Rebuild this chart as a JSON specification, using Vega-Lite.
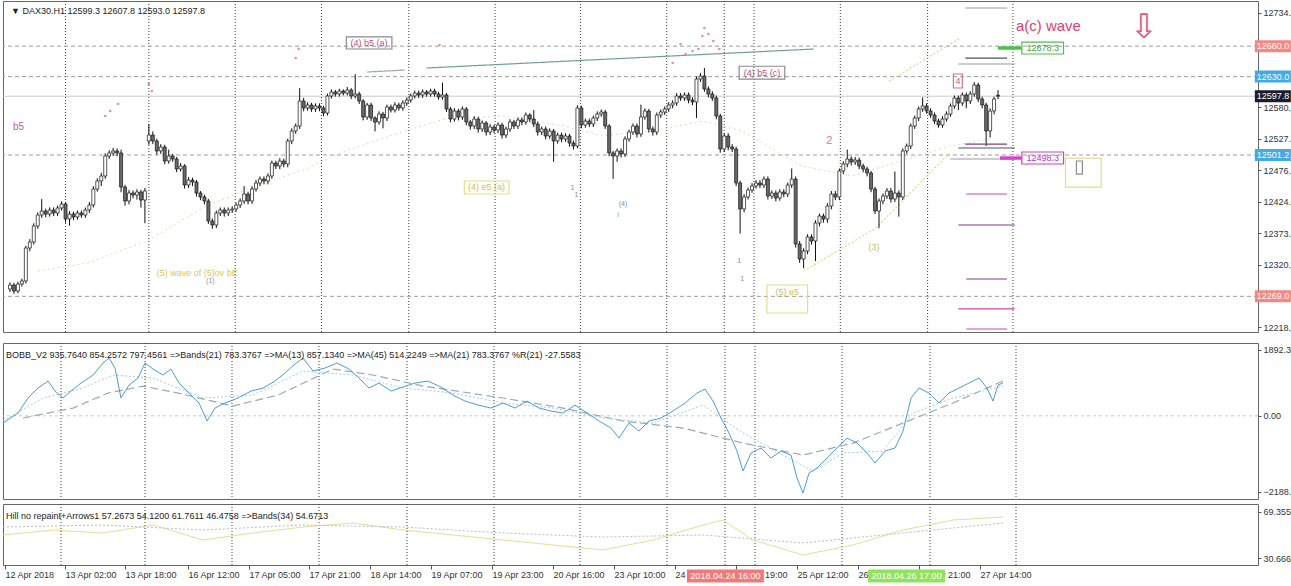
{
"$schema":"https://vega.github.io/schema/vega-lite/v6.json",
"padding":0,
"background":"white",
"spacing":9,
"config":{"font":"Liberation Sans","view":{"stroke":"#666","strokeWidth":1},"axis":{"labelFont":"Liberation Sans","labelFontSize":9,"labelColor":"#333","tickColor":"#555","domain":false,"grid":false}},
"datasets":{
"vgrid":[{"v":14.5},{"v":35.5},{"v":57.25},{"v":79},{"v":101},{"v":122.75},{"v":144.25},{"v":166},{"v":180.5},{"v":188},{"v":209.75},{"v":231.75},{"v":253.25}],
"hgrid":[{"p":12680.0},{"p":12630.0},{"p":12501.2},{"p":12269.0}],
"cur":[{"p":12597.8}],
"ma":[{"v":7.5,"p":12310.6},{"v":20,"p":12323.7},{"v":35,"p":12359.9},{"v":50,"p":12417.4},{"v":62.5,"p":12450.3},{"v":75,"p":12478.2},{"v":85,"p":12507.8},{"v":100,"p":12540.6},{"v":110,"p":12560.3},{"v":125,"p":12565.3},{"v":140,"p":12548.8},{"v":150,"p":12532.4},{"v":165,"p":12543.9},{"v":175,"p":12557.0},{"v":185,"p":12540.6},{"v":200,"p":12483.1},{"v":212.5,"p":12466.7},{"v":225,"p":12491.3},{"v":237.5,"p":12516.0},{"v":247.5,"p":12527.5}],
"tr":[{"id":"t1","k":"teal","v":105.5,"p":12644.1},{"id":"t1","k":"teal","v":203,"p":12675.3},{"id":"t2","k":"gray","v":90.5,"p":12637.5},{"id":"t2","k":"gray","v":100,"p":12640.8},{"id":"y1","k":"yel","v":222,"p":12622.8},{"id":"y1","k":"yel","v":240,"p":12693.4},{"id":"y2","k":"yel","v":200.5,"p":12310.6},{"id":"y2","k":"yel","v":218.75,"p":12381.2},{"id":"y2","k":"yel","v":237,"p":12502.8}],
"ohlc":[
{"v":0.5,"o":12281.0,"h":12292,"l":12276,"c":12287.6},
{"v":1.5,"o":12287.6,"h":12291,"l":12273,"c":12277.7},
{"v":2.5,"o":12277.7,"h":12293,"l":12274,"c":12289.2},
{"v":3.5,"o":12289.2,"h":12298,"l":12285,"c":12294.2},
{"v":4.5,"o":12294.2,"h":12352,"l":12290,"c":12348.4},
{"v":5.5,"o":12348.4,"h":12363,"l":12343,"c":12358.2},
{"v":6.5,"o":12358.2,"h":12389,"l":12354,"c":12384.5},
{"v":7.5,"o":12384.5,"h":12407,"l":12380,"c":12402.6},
{"v":8.5,"o":12402.6,"h":12429,"l":12398,"c":12409.2},
{"v":9.5,"o":12409.2,"h":12413,"l":12399,"c":12404.2},
{"v":10.5,"o":12404.2,"h":12415,"l":12400,"c":12410.8},
{"v":11.5,"o":12410.8,"h":12415,"l":12401,"c":12405.9},
{"v":12.5,"o":12405.9,"h":12418,"l":12401,"c":12414.1},
{"v":13.5,"o":12414.1,"h":12425,"l":12410,"c":12420.7},
{"v":14.5,"o":12420.7,"h":12424,"l":12390,"c":12396.0},
{"v":15.5,"o":12396.0,"h":12409,"l":12385,"c":12404.2},
{"v":16.5,"o":12404.2,"h":12408,"l":12394,"c":12399.3},
{"v":17.5,"o":12399.3,"h":12410,"l":12395,"c":12405.9},
{"v":18.5,"o":12405.9,"h":12410,"l":12398,"c":12402.6},
{"v":19.5,"o":12402.6,"h":12415,"l":12398,"c":12410.8},
{"v":20.5,"o":12410.8,"h":12424,"l":12406,"c":12419.0},
{"v":21.5,"o":12419.0,"h":12450,"l":12415,"c":12445.3},
{"v":22.5,"o":12445.3,"h":12463,"l":12441,"c":12458.5},
{"v":23.5,"o":12458.5,"h":12472,"l":12450,"c":12466.7},
{"v":24.5,"o":12466.7,"h":12504,"l":12462,"c":12499.5},
{"v":25.5,"o":12499.5,"h":12509,"l":12495,"c":12504.5},
{"v":26.5,"o":12504.5,"h":12513,"l":12500,"c":12507.8},
{"v":27.5,"o":12507.8,"h":12512,"l":12499,"c":12504.5},
{"v":28.5,"o":12504.5,"h":12510,"l":12440,"c":12448.6},
{"v":29.5,"o":12448.6,"h":12452,"l":12418,"c":12425.6},
{"v":30.5,"o":12425.6,"h":12444,"l":12420,"c":12438.7},
{"v":31.5,"o":12438.7,"h":12443,"l":12430,"c":12435.5},
{"v":32.5,"o":12435.5,"h":12445,"l":12428,"c":12440.4},
{"v":33.5,"o":12440.4,"h":12444,"l":12415,"c":12427.2},
{"v":34.5,"o":12427.2,"h":12447,"l":12389,"c":12442.1},
{"v":35.5,"o":12524.2,"h":12552,"l":12518,"c":12534.0},
{"v":36.5,"o":12534.0,"h":12540,"l":12519,"c":12524.2},
{"v":37.5,"o":12524.2,"h":12528,"l":12502,"c":12507.8},
{"v":38.5,"o":12507.8,"h":12519,"l":12503,"c":12514.3},
{"v":39.5,"o":12514.3,"h":12518,"l":12486,"c":12491.3},
{"v":40.5,"o":12491.3,"h":12510,"l":12487,"c":12499.5},
{"v":41.5,"o":12499.5,"h":12503,"l":12490,"c":12494.6},
{"v":42.5,"o":12494.6,"h":12498,"l":12473,"c":12478.2},
{"v":43.5,"o":12478.2,"h":12488,"l":12474,"c":12483.1},
{"v":44.5,"o":12483.1,"h":12486,"l":12446,"c":12451.9},
{"v":45.5,"o":12451.9,"h":12465,"l":12447,"c":12460.1},
{"v":46.5,"o":12460.1,"h":12464,"l":12450,"c":12456.8},
{"v":47.5,"o":12456.8,"h":12460,"l":12433,"c":12438.7},
{"v":48.5,"o":12438.7,"h":12442,"l":12427,"c":12432.2},
{"v":49.5,"o":12432.2,"h":12436,"l":12420,"c":12425.6},
{"v":50.5,"o":12425.6,"h":12429,"l":12388,"c":12392.7},
{"v":51.5,"o":12392.7,"h":12397,"l":12380,"c":12386.2},
{"v":52.5,"o":12386.2,"h":12410,"l":12381,"c":12405.9},
{"v":53.5,"o":12405.9,"h":12415,"l":12401,"c":12410.8},
{"v":54.5,"o":12410.8,"h":12415,"l":12400,"c":12405.9},
{"v":55.5,"o":12405.9,"h":12415,"l":12401,"c":12410.8},
{"v":56.5,"o":12410.8,"h":12417,"l":12406,"c":12412.5},
{"v":57.5,"o":12412.5,"h":12423,"l":12408,"c":12419.0},
{"v":58.5,"o":12419.0,"h":12430,"l":12414,"c":12425.6},
{"v":59.5,"o":12425.6,"h":12450,"l":12421,"c":12437.1},
{"v":60.5,"o":12437.1,"h":12441,"l":12420,"c":12425.6},
{"v":61.5,"o":12425.6,"h":12450,"l":12421,"c":12445.3},
{"v":62.5,"o":12445.3,"h":12460,"l":12441,"c":12455.2},
{"v":63.5,"o":12455.2,"h":12466,"l":12450,"c":12461.7},
{"v":64.5,"o":12461.7,"h":12466,"l":12453,"c":12458.5},
{"v":65.5,"o":12458.5,"h":12471,"l":12453,"c":12466.7},
{"v":66.5,"o":12466.7,"h":12492,"l":12462,"c":12488.0},
{"v":67.5,"o":12488.0,"h":12492,"l":12478,"c":12483.1},
{"v":68.5,"o":12483.1,"h":12496,"l":12478,"c":12491.3},
{"v":69.5,"o":12491.3,"h":12495,"l":12481,"c":12486.4},
{"v":70.5,"o":12486.4,"h":12528,"l":12481,"c":12524.2},
{"v":71.5,"o":12524.2,"h":12545,"l":12519,"c":12540.6},
{"v":72.5,"o":12540.6,"h":12553,"l":12536,"c":12548.8},
{"v":73.5,"o":12548.8,"h":12611,"l":12544,"c":12589.9},
{"v":74.5,"o":12589.9,"h":12595,"l":12573,"c":12578.4},
{"v":75.5,"o":12578.4,"h":12588,"l":12574,"c":12583.3},
{"v":76.5,"o":12583.3,"h":12587,"l":12572,"c":12576.8},
{"v":77.5,"o":12576.8,"h":12586,"l":12572,"c":12581.7},
{"v":78.5,"o":12581.7,"h":12586,"l":12573,"c":12578.4},
{"v":79.5,"o":12578.4,"h":12582,"l":12565,"c":12570.2},
{"v":80.5,"o":12570.2,"h":12602,"l":12566,"c":12598.1},
{"v":81.5,"o":12598.1,"h":12609,"l":12594,"c":12604.7},
{"v":82.5,"o":12604.7,"h":12608,"l":12597,"c":12601.4},
{"v":83.5,"o":12601.4,"h":12610,"l":12597,"c":12606.3},
{"v":84.5,"o":12606.3,"h":12609,"l":12599,"c":12603.0},
{"v":85.5,"o":12603.0,"h":12613,"l":12599,"c":12608.0},
{"v":86.5,"o":12608.0,"h":12611,"l":12593,"c":12598.1},
{"v":87.5,"o":12598.1,"h":12634,"l":12594,"c":12601.4},
{"v":88.5,"o":12601.4,"h":12605,"l":12585,"c":12589.9},
{"v":89.5,"o":12589.9,"h":12593,"l":12558,"c":12563.6},
{"v":90.5,"o":12563.6,"h":12587,"l":12559,"c":12583.3},
{"v":91.5,"o":12583.3,"h":12587,"l":12557,"c":12562.0},
{"v":92.5,"o":12562.0,"h":12565,"l":12540,"c":12555.4},
{"v":93.5,"o":12555.4,"h":12573,"l":12551,"c":12568.5},
{"v":94.5,"o":12568.5,"h":12572,"l":12545,"c":12562.0},
{"v":95.5,"o":12562.0,"h":12584,"l":12557,"c":12580.0},
{"v":96.5,"o":12580.0,"h":12584,"l":12571,"c":12575.1},
{"v":97.5,"o":12575.1,"h":12588,"l":12571,"c":12583.3},
{"v":98.5,"o":12583.3,"h":12587,"l":12574,"c":12578.4},
{"v":99.5,"o":12578.4,"h":12591,"l":12574,"c":12586.6},
{"v":100.5,"o":12586.6,"h":12596,"l":12582,"c":12591.5},
{"v":101.5,"o":12591.5,"h":12602,"l":12587,"c":12598.1},
{"v":102.5,"o":12598.1,"h":12607,"l":12594,"c":12603.0},
{"v":103.5,"o":12603.0,"h":12607,"l":12595,"c":12599.8},
{"v":104.5,"o":12599.8,"h":12609,"l":12595,"c":12604.7},
{"v":105.5,"o":12604.7,"h":12608,"l":12597,"c":12601.4},
{"v":106.5,"o":12601.4,"h":12610,"l":12597,"c":12606.3},
{"v":107.5,"o":12606.3,"h":12610,"l":12597,"c":12601.4},
{"v":108.5,"o":12601.4,"h":12605,"l":12592,"c":12596.5},
{"v":109.5,"o":12596.5,"h":12620,"l":12592,"c":12599.8},
{"v":110.5,"o":12599.8,"h":12603,"l":12572,"c":12576.8},
{"v":111.5,"o":12576.8,"h":12580,"l":12555,"c":12560.3},
{"v":112.5,"o":12560.3,"h":12578,"l":12556,"c":12573.5},
{"v":113.5,"o":12573.5,"h":12577,"l":12558,"c":12563.6},
{"v":114.5,"o":12563.6,"h":12581,"l":12559,"c":12576.8},
{"v":115.5,"o":12576.8,"h":12580,"l":12550,"c":12555.4},
{"v":116.5,"o":12555.4,"h":12559,"l":12543,"c":12548.8},
{"v":117.5,"o":12548.8,"h":12565,"l":12544,"c":12560.3},
{"v":118.5,"o":12560.3,"h":12564,"l":12538,"c":12543.9},
{"v":119.5,"o":12543.9,"h":12558,"l":12539,"c":12553.8},
{"v":120.5,"o":12553.8,"h":12557,"l":12533,"c":12539.0},
{"v":121.5,"o":12539.0,"h":12552,"l":12534,"c":12547.2},
{"v":122.5,"o":12547.2,"h":12551,"l":12537,"c":12542.2},
{"v":123.5,"o":12542.2,"h":12555,"l":12537,"c":12550.5},
{"v":124.5,"o":12550.5,"h":12554,"l":12528,"c":12534.0},
{"v":125.5,"o":12534.0,"h":12548,"l":12529,"c":12543.9},
{"v":126.5,"o":12543.9,"h":12560,"l":12539,"c":12555.4},
{"v":127.5,"o":12555.4,"h":12559,"l":12544,"c":12548.8},
{"v":128.5,"o":12548.8,"h":12563,"l":12544,"c":12558.7},
{"v":129.5,"o":12558.7,"h":12563,"l":12550,"c":12555.4},
{"v":130.5,"o":12555.4,"h":12571,"l":12551,"c":12566.9},
{"v":131.5,"o":12566.9,"h":12570,"l":12555,"c":12560.3},
{"v":132.5,"o":12560.3,"h":12575,"l":12547,"c":12552.1},
{"v":133.5,"o":12552.1,"h":12556,"l":12533,"c":12539.0},
{"v":134.5,"o":12539.0,"h":12548,"l":12534,"c":12543.9},
{"v":135.5,"o":12543.9,"h":12548,"l":12527,"c":12532.4},
{"v":136.5,"o":12532.4,"h":12545,"l":12528,"c":12540.6},
{"v":137.5,"o":12540.6,"h":12544,"l":12490,"c":12524.2},
{"v":138.5,"o":12524.2,"h":12538,"l":12520,"c":12534.0},
{"v":139.5,"o":12534.0,"h":12538,"l":12522,"c":12527.5},
{"v":140.5,"o":12527.5,"h":12537,"l":12523,"c":12532.4},
{"v":141.5,"o":12532.4,"h":12536,"l":12515,"c":12520.9},
{"v":142.5,"o":12520.9,"h":12525,"l":12510,"c":12516.0},
{"v":143.5,"o":12516.0,"h":12583,"l":12512,"c":12578.4},
{"v":144.5,"o":12578.4,"h":12582,"l":12545,"c":12550.5},
{"v":145.5,"o":12550.5,"h":12561,"l":12546,"c":12557.0},
{"v":146.5,"o":12557.0,"h":12561,"l":12547,"c":12552.1},
{"v":147.5,"o":12552.1,"h":12566,"l":12547,"c":12562.0},
{"v":148.5,"o":12562.0,"h":12573,"l":12557,"c":12568.5},
{"v":149.5,"o":12568.5,"h":12576,"l":12564,"c":12571.8},
{"v":150.5,"o":12571.8,"h":12575,"l":12544,"c":12548.8},
{"v":151.5,"o":12548.8,"h":12552,"l":12499,"c":12504.5},
{"v":152.5,"o":12504.5,"h":12508,"l":12462,"c":12499.5},
{"v":153.5,"o":12499.5,"h":12512,"l":12490,"c":12507.8},
{"v":154.5,"o":12507.8,"h":12512,"l":12497,"c":12502.8},
{"v":155.5,"o":12502.8,"h":12532,"l":12498,"c":12527.5},
{"v":156.5,"o":12527.5,"h":12543,"l":12523,"c":12539.0},
{"v":157.5,"o":12539.0,"h":12553,"l":12534,"c":12548.8},
{"v":158.5,"o":12548.8,"h":12553,"l":12530,"c":12535.7},
{"v":159.5,"o":12535.7,"h":12584,"l":12531,"c":12563.6},
{"v":160.5,"o":12563.6,"h":12578,"l":12559,"c":12573.5},
{"v":161.5,"o":12573.5,"h":12577,"l":12538,"c":12543.9},
{"v":162.5,"o":12543.9,"h":12548,"l":12533,"c":12539.0},
{"v":163.5,"o":12539.0,"h":12571,"l":12534,"c":12566.9},
{"v":164.5,"o":12566.9,"h":12576,"l":12562,"c":12571.8},
{"v":165.5,"o":12571.8,"h":12581,"l":12567,"c":12576.8},
{"v":166.5,"o":12576.8,"h":12588,"l":12572,"c":12583.3},
{"v":167.5,"o":12583.3,"h":12591,"l":12578,"c":12586.6},
{"v":168.5,"o":12586.6,"h":12603,"l":12582,"c":12598.1},
{"v":169.5,"o":12598.1,"h":12603,"l":12590,"c":12594.8},
{"v":170.5,"o":12594.8,"h":12604,"l":12590,"c":12599.8},
{"v":171.5,"o":12599.8,"h":12604,"l":12586,"c":12591.5},
{"v":172.5,"o":12591.5,"h":12596,"l":12583,"c":12588.3},
{"v":173.5,"o":12588.3,"h":12630,"l":12562,"c":12626.0},
{"v":174.5,"o":12626.0,"h":12636,"l":12621,"c":12631.0},
{"v":175.5,"o":12631.0,"h":12644,"l":12605,"c":12609.6},
{"v":176.5,"o":12609.6,"h":12614,"l":12596,"c":12601.4},
{"v":177.5,"o":12601.4,"h":12606,"l":12590,"c":12594.8},
{"v":178.5,"o":12594.8,"h":12599,"l":12560,"c":12565.3},
{"v":179.5,"o":12565.3,"h":12569,"l":12505,"c":12511.0},
{"v":180.5,"o":12511.0,"h":12537,"l":12506,"c":12532.4},
{"v":181.5,"o":12532.4,"h":12537,"l":12509,"c":12514.3},
{"v":182.5,"o":12514.3,"h":12519,"l":12506,"c":12511.0},
{"v":183.5,"o":12511.0,"h":12515,"l":12450,"c":12455.2},
{"v":184.5,"o":12455.2,"h":12459,"l":12372,"c":12412.5},
{"v":185.5,"o":12412.5,"h":12437,"l":12407,"c":12432.2},
{"v":186.5,"o":12432.2,"h":12448,"l":12428,"c":12443.7},
{"v":187.5,"o":12443.7,"h":12455,"l":12439,"c":12450.3},
{"v":188.5,"o":12450.3,"h":12460,"l":12446,"c":12455.2},
{"v":189.5,"o":12455.2,"h":12460,"l":12447,"c":12451.9},
{"v":190.5,"o":12451.9,"h":12466,"l":12447,"c":12461.7},
{"v":191.5,"o":12461.7,"h":12466,"l":12428,"c":12433.8},
{"v":192.5,"o":12433.8,"h":12443,"l":12429,"c":12438.7},
{"v":193.5,"o":12438.7,"h":12443,"l":12425,"c":12430.5},
{"v":194.5,"o":12430.5,"h":12445,"l":12426,"c":12440.4},
{"v":195.5,"o":12440.4,"h":12445,"l":12432,"c":12437.1},
{"v":196.5,"o":12437.1,"h":12456,"l":12432,"c":12451.9},
{"v":197.5,"o":12451.9,"h":12479,"l":12447,"c":12461.7},
{"v":198.5,"o":12461.7,"h":12466,"l":12349,"c":12355.0},
{"v":199.5,"o":12355.0,"h":12360,"l":12324,"c":12330.3},
{"v":200.5,"o":12330.3,"h":12348,"l":12315,"c":12343.5},
{"v":201.5,"o":12343.5,"h":12371,"l":12338,"c":12366.5},
{"v":202.5,"o":12366.5,"h":12371,"l":12354,"c":12359.9},
{"v":203.5,"o":12359.9,"h":12394,"l":12327,"c":12389.5},
{"v":204.5,"o":12389.5,"h":12405,"l":12384,"c":12401.0},
{"v":205.5,"o":12401.0,"h":12405,"l":12390,"c":12396.0},
{"v":206.5,"o":12396.0,"h":12422,"l":12390,"c":12417.4},
{"v":207.5,"o":12417.4,"h":12442,"l":12412,"c":12437.1},
{"v":208.5,"o":12437.1,"h":12442,"l":12427,"c":12432.2},
{"v":209.5,"o":12432.2,"h":12479,"l":12427,"c":12474.9},
{"v":210.5,"o":12474.9,"h":12491,"l":12470,"c":12486.4},
{"v":211.5,"o":12486.4,"h":12510,"l":12481,"c":12494.6},
{"v":212.5,"o":12494.6,"h":12499,"l":12484,"c":12489.7},
{"v":213.5,"o":12489.7,"h":12498,"l":12485,"c":12492.9},
{"v":214.5,"o":12492.9,"h":12497,"l":12478,"c":12483.1},
{"v":215.5,"o":12483.1,"h":12487,"l":12473,"c":12478.2},
{"v":216.5,"o":12478.2,"h":12482,"l":12466,"c":12471.6},
{"v":217.5,"o":12471.6,"h":12475,"l":12440,"c":12445.3},
{"v":218.5,"o":12445.3,"h":12449,"l":12404,"c":12409.2},
{"v":219.5,"o":12409.2,"h":12430,"l":12381,"c":12425.6},
{"v":220.5,"o":12425.6,"h":12438,"l":12420,"c":12433.8},
{"v":221.5,"o":12433.8,"h":12447,"l":12429,"c":12442.1},
{"v":222.5,"o":12442.1,"h":12447,"l":12423,"c":12428.9},
{"v":223.5,"o":12428.9,"h":12474,"l":12424,"c":12438.7},
{"v":224.5,"o":12438.7,"h":12443,"l":12400,"c":12432.2},
{"v":225.5,"o":12432.2,"h":12512,"l":12427,"c":12507.8},
{"v":226.5,"o":12507.8,"h":12520,"l":12503,"c":12516.0},
{"v":227.5,"o":12516.0,"h":12553,"l":12511,"c":12548.8},
{"v":228.5,"o":12548.8,"h":12566,"l":12544,"c":12562.0},
{"v":229.5,"o":12562.0,"h":12581,"l":12557,"c":12576.8},
{"v":230.5,"o":12576.8,"h":12596,"l":12572,"c":12581.7},
{"v":231.5,"o":12581.7,"h":12586,"l":12569,"c":12573.5},
{"v":232.5,"o":12573.5,"h":12578,"l":12562,"c":12566.9},
{"v":233.5,"o":12566.9,"h":12571,"l":12552,"c":12557.0},
{"v":234.5,"o":12557.0,"h":12561,"l":12546,"c":12550.5},
{"v":235.5,"o":12550.5,"h":12565,"l":12546,"c":12560.3},
{"v":236.5,"o":12560.3,"h":12573,"l":12556,"c":12568.5},
{"v":237.5,"o":12568.5,"h":12586,"l":12564,"c":12581.7},
{"v":238.5,"o":12581.7,"h":12599,"l":12577,"c":12594.8},
{"v":239.5,"o":12594.8,"h":12599,"l":12575,"c":12586.6},
{"v":240.5,"o":12586.6,"h":12604,"l":12582,"c":12599.8},
{"v":241.5,"o":12599.8,"h":12604,"l":12578,"c":12589.9},
{"v":242.5,"o":12589.9,"h":12606,"l":12585,"c":12601.4},
{"v":243.5,"o":12601.4,"h":12621,"l":12597,"c":12616.2},
{"v":244.5,"o":12616.2,"h":12620,"l":12588,"c":12593.2},
{"v":245.5,"o":12593.2,"h":12597,"l":12578,"c":12583.3},
{"v":246.5,"o":12583.3,"h":12587,"l":12516,"c":12540.6},
{"v":247.5,"o":12540.6,"h":12578,"l":12530,"c":12573.5},
{"v":248.5,"o":12573.5,"h":12597,"l":12568,"c":12593.2},
{"v":249.5,"o":12599.3,"h":12607.8,"l":12593.0,"c":12597.8}
],
"lv":[{"v1":241.25,"v2":251.75,"p":12742.7,"k":"gray"},{"v1":241.25,"v2":251.75,"p":12660.5,"k":"dgray"},{"v1":239.5,"v2":253.75,"p":12650.7,"k":"gray"},{"v1":241.25,"v2":251.75,"p":12519.2,"k":"purple"},{"v1":239.5,"v2":253.75,"p":12512.7,"k":"dgray"},{"v1":237.5,"v2":253.75,"p":12494.6,"k":"gray"},{"v1":241.5,"v2":251.75,"p":12437.1,"k":"magenta"},{"v1":239.5,"v2":253.75,"p":12386.2,"k":"purple"},{"v1":241.5,"v2":251.75,"p":12297.5,"k":"purple"},{"v1":239.5,"v2":253.75,"p":12248.5,"k":"magenta"},{"v1":241.5,"v2":251.75,"p":12215.3,"k":"magenta"}],
"arw":[{"v1":249.5,"v2":255.5,"p":12677.0,"k":"green"},{"v1":250,"v2":255.5,"p":12496.2,"k":"magenta"}],
"bx":[{"v1":85.25,"v2":96.75,"p1":12695.1,"p2":12675.3,"k":"gray"},{"v1":184.25,"v2":195.75,"p1":12647.0,"p2":12626.0,"k":"gray"},{"v1":238.25,"v2":240.5,"p1":12634.3,"p2":12611.3,"k":"pink"},{"v1":115,"v2":126.25,"p1":12458.5,"p2":12437.1,"k":"yellow"},{"v1":191.25,"v2":201.5,"p1":12287.6,"p2":12241.6,"k":"yellow"},{"v1":266.5,"v2":275.5,"p1":12496.2,"p2":12448.5,"k":"yellow"},{"v1":269.25,"v2":270.75,"p1":12491.3,"p2":12469.8,"k":"gray"},{"v1":255.5,"v2":266,"p1":12686.8,"p2":12667.1,"k":"green"},{"v1":255.5,"v2":266,"p1":12506.1,"p2":12486.4,"k":"magenta"}],
"pk":[{"v":24.5,"p":12565.3},{"v":25.75,"p":12573.5},{"v":27.75,"p":12585.0},{"v":35.5,"p":12617.8},{"v":36.25,"p":12606.3},{"v":72.5,"p":12660.5},{"v":73.25,"p":12675.3},{"v":108.75,"p":12681.9},{"v":167.5,"p":12652.3},{"v":169.5,"p":12683.5},{"v":170.75,"p":12667.1},{"v":172.5,"p":12672.0},{"v":174,"p":12675.3},{"v":175,"p":12696.7},{"v":175.5,"p":12709.8},{"v":176.5,"p":12700.0},{"v":177.75,"p":12688.5},{"v":179.25,"p":12675.3}],
"tx":[{"t":"▼ DAX30.H1  12599.3 12607.8 12593.0 12597.8","v":0.75,"p":12738.0,"k":"hdr"},{"t":"b5","v":1.25,"p":12547.2,"k":"pinkL"},{"t":"(4) b5 (a)","v":91,"p":12685.2,"k":"pink"},{"t":"(4) b5 (c)","v":190,"p":12636.5,"k":"pink"},{"t":"2","v":207,"p":12524.2,"k":"two"},{"t":"4","v":239.4,"p":12622.8,"k":"four"},{"t":"a(c) wave","v":254,"p":12713.1,"k":"wave"},{"t":"⇩","v":286.25,"p":12709.8,"k":"arrow"},{"t":"(4) e5 (a)","v":120.6,"p":12447.8,"k":"yel"},{"t":"(3)","v":218.25,"p":12350.0,"k":"yel"},{"t":"(5) e5","v":196.4,"p":12276.0,"k":"yel"},{"t":"(5)    wave of  (5)ov bE","v":37.5,"p":12307.2,"k":"yelL"},{"t":"(1)","v":51,"p":12294.2,"k":"small"},{"t":"1","v":142.25,"p":12447.0,"k":"small"},{"t":"1","v":143.25,"p":12435.5,"k":"small"},{"t":"(4)","v":155,"p":12420.7,"k":"small"},{"t":"i","v":153.75,"p":12402.6,"k":"small"},{"t":"1","v":184.25,"p":12327.0,"k":"small"},{"t":"1","v":185,"p":12297.5,"k":"small"},{"t":"12678.3","v":260.75,"p":12677.0,"k":"labg"},{"t":"12498.3","v":260.75,"p":12496.2,"k":"labm"}],
"axl":[{"p":12680.0,"t":"12680.0","k":"red"},{"p":12630.0,"t":"12630.0","k":"blue"},{"p":12597.8,"t":"12597.8","k":"black"},{"p":12501.2,"t":"12501.2","k":"blue"},{"p":12269.0,"t":"12269.0","k":"red"}],
"bmain":[{"v":0,"b":-207},{"v":3.75,"b":80},{"v":6.25,"b":512},{"v":8.75,"b":799},{"v":11.25,"b":1000},{"v":13,"b":713},{"v":15,"b":512},{"v":17,"b":713},{"v":19.5,"b":943},{"v":22.5,"b":1173},{"v":25,"b":1517},{"v":26.5,"b":1661},{"v":28,"b":1374},{"v":29.5,"b":512},{"v":31.5,"b":885},{"v":33.75,"b":1086},{"v":35.5,"b":1517},{"v":37.5,"b":1345},{"v":40,"b":1173},{"v":42,"b":1345},{"v":44,"b":943},{"v":46.5,"b":655},{"v":49,"b":368},{"v":51,"b":-149},{"v":53,"b":224},{"v":55.5,"b":368},{"v":58.75,"b":512},{"v":62,"b":713},{"v":65,"b":799},{"v":68,"b":1000},{"v":70.5,"b":1230},{"v":73,"b":1489},{"v":75,"b":1661},{"v":77.5,"b":1288},{"v":80.5,"b":1374},{"v":83.5,"b":1517},{"v":86.5,"b":1345},{"v":89,"b":1086},{"v":91.5,"b":799},{"v":94,"b":943},{"v":97,"b":713},{"v":100,"b":828},{"v":103,"b":943},{"v":106.25,"b":1000},{"v":109.5,"b":828},{"v":112.5,"b":598},{"v":115.5,"b":425},{"v":118.75,"b":310},{"v":122,"b":224},{"v":125,"b":368},{"v":128,"b":224},{"v":131,"b":425},{"v":134,"b":224},{"v":137,"b":138},{"v":140,"b":80},{"v":143,"b":310},{"v":146,"b":80},{"v":149,"b":-149},{"v":152,"b":-351},{"v":154,"b":-638},{"v":156.5,"b":-207},{"v":159,"b":-437},{"v":161.5,"b":-149},{"v":164.5,"b":-63},{"v":167.5,"b":138},{"v":170.5,"b":368},{"v":173.5,"b":655},{"v":175.5,"b":770},{"v":177.5,"b":425},{"v":179.5,"b":-63},{"v":181.5,"b":-494},{"v":183.5,"b":-1012},{"v":185,"b":-1586},{"v":187,"b":-1069},{"v":189.5,"b":-925},{"v":192,"b":-1213},{"v":194.5,"b":-1012},{"v":197,"b":-1127},{"v":198.5,"b":-1788},{"v":200,"b":-2219},{"v":201.5,"b":-1644},{"v":203.5,"b":-1500},{"v":206,"b":-1213},{"v":208.5,"b":-925},{"v":211,"b":-638},{"v":213.5,"b":-782},{"v":216,"b":-1069},{"v":218,"b":-1357},{"v":220.5,"b":-1012},{"v":223,"b":-925},{"v":225,"b":-437},{"v":227,"b":512},{"v":229,"b":799},{"v":231.5,"b":655},{"v":234,"b":368},{"v":236.5,"b":655},{"v":239,"b":799},{"v":241.5,"b":943},{"v":244,"b":1086},{"v":246,"b":799},{"v":247.5,"b":425},{"v":248.75,"b":885},{"v":250,"b":943}],
"bma45":[{"v":5,"b":-63},{"v":17.5,"b":224},{"v":26.25,"b":655},{"v":35,"b":856},{"v":43.75,"b":655},{"v":57.5,"b":282},{"v":68.75,"b":598},{"v":82.5,"b":1345},{"v":92.5,"b":1173},{"v":105,"b":856},{"v":125,"b":512},{"v":140,"b":224},{"v":155,"b":-149},{"v":170,"b":-351},{"v":185,"b":-782},{"v":200,"b":-1127},{"v":212.5,"b":-782},{"v":225,"b":-207},{"v":237.5,"b":368},{"v":250,"b":1000}],
"bma13":[{"v":0,"b":-149},{"v":10,"b":512},{"v":20,"b":799},{"v":27.5,"b":1173},{"v":37.5,"b":1086},{"v":50,"b":512},{"v":62.5,"b":598},{"v":75,"b":1288},{"v":87.5,"b":1173},{"v":100,"b":799},{"v":112.5,"b":655},{"v":125,"b":368},{"v":137.5,"b":224},{"v":150,"b":-63},{"v":162.5,"b":-207},{"v":175,"b":310},{"v":185,"b":-494},{"v":195,"b":-1127},{"v":202.5,"b":-1586},{"v":210,"b":-1069},{"v":220,"b":-1012},{"v":227.5,"b":80},{"v":237.5,"b":512},{"v":250,"b":856}],
"bh":[{"t":"BOBB_V2 935.7640 854.2572 797.4561  =>Bands(21) 783.3767  =>MA(13) 857.1340  =>MA(45) 514.2249  =>MA(21) 783.3767  %R(21) -27.5583","v":0.75,"b":1748}],
"hy":[{"v":0,"h":50.0},{"v":12.5,"h":54.2},{"v":25,"h":51.7},{"v":37.5,"h":58.4},{"v":50,"h":45.8},{"v":62.5,"h":51.7},{"v":75,"h":56.7},{"v":87.5,"h":60.1},{"v":100,"h":54.2},{"v":112.5,"h":50.0},{"v":125,"h":45.8},{"v":137.5,"h":41.6},{"v":150,"h":37.4},{"v":162.5,"h":45.8},{"v":175,"h":58.4},{"v":180,"h":62.6},{"v":187.5,"h":45.8},{"v":200,"h":33.2},{"v":212.5,"h":41.6},{"v":225,"h":54.2},{"v":237.5,"h":62.6},{"v":250,"h":65.15}],
"hg":[{"v":0,"h":56.7},{"v":25,"h":58.4},{"v":50,"h":54.2},{"v":75,"h":58.4},{"v":100,"h":56.7},{"v":125,"h":51.7},{"v":150,"h":48.3},{"v":175,"h":50.0},{"v":200,"h":43.3},{"v":225,"h":51.7},{"v":250,"h":60.1}],
"hh":[{"t":"Hill no repaint+Arrows1 57.2673 54.1200 61.7611 46.4758  =>Bands(34) 54.6713","v":0.75,"h":66.0}],
"xbox":[{"v":180.6,"t":"2018.04.24 16:00","k":"red"},{"v":225.9,"t":"2018.04.26 17:00","k":"green"}]
},
"vconcat":[
{"width":1255,"height":331,
"resolve":{"scale":{"color":"independent","stroke":"independent","strokeDash":"independent"}},
"layer":[
{"data":{"name":"vgrid"},"mark":{"type":"rule","color":"#3a3a3a","strokeDash":[1,2],"strokeWidth":1},"encoding":{"x":{"field":"v","type":"quantitative","scale":{"domain":[0,313.75],"nice":false,"zero":false},"axis":null}}},
{"data":{"name":"hgrid"},"mark":{"type":"rule","color":"#9c9c9c","strokeDash":[4,3],"strokeWidth":1},"encoding":{"y":{"field":"p","type":"quantitative","scale":{"domain":[12210.4,12754.2],"nice":false,"zero":false},"axis":{"orient":"right","values":[12734.5,12580.0,12527.5,12476.5,12424.0,12373.0,12320.5,12218.5],"format":".1f","tickSize":3,"labelPadding":2,"title":null}}}},
{"data":{"name":"cur"},"mark":{"type":"rule","color":"#cacaca","strokeWidth":1},"encoding":{"y":{"field":"p","type":"quantitative"}}},
{"data":{"name":"ma"},"mark":{"type":"line","color":"#e2dbb4","strokeDash":[2,3],"strokeWidth":1},"encoding":{"x":{"field":"v","type":"quantitative"},"y":{"field":"p","type":"quantitative"}}},
{"data":{"name":"tr"},"mark":{"type":"line","strokeWidth":1.2},"encoding":{"x":{"field":"v","type":"quantitative"},"y":{"field":"p","type":"quantitative"},"detail":{"field":"id"},"color":{"field":"k","type":"nominal","scale":{"domain":["teal","gray","yel"],"range":["#6f9f9c","#9aaaaa","#e0d68a"]},"legend":null},"strokeDash":{"field":"k","type":"nominal","scale":{"domain":["teal","gray","yel"],"range":[[1,0],[1,0],[2,2]]},"legend":null}}},
{"data":{"name":"ohlc"},"mark":{"type":"rule","color":"#111111","strokeWidth":1},"encoding":{"x":{"field":"v","type":"quantitative"},"y":{"field":"l","type":"quantitative"},"y2":{"field":"h"}}},
{"data":{"name":"ohlc"},"mark":{"type":"bar","width":3,"stroke":"#111111","strokeWidth":0.7},"encoding":{"x":{"field":"v","type":"quantitative"},"y":{"field":"o","type":"quantitative"},"y2":{"field":"c"},"fill":{"condition":{"test":"datum.c >= datum.o","value":"#ffffff"},"value":"#6a6a6a"}}},
{"data":{"name":"lv"},"mark":{"type":"rule","strokeWidth":1.2},"encoding":{"x":{"field":"v1","type":"quantitative"},"x2":{"field":"v2"},"y":{"field":"p","type":"quantitative"},"color":{"field":"k","type":"nominal","scale":{"domain":["gray","dgray","purple","magenta"],"range":["#9a9a9a","#555555","#7c3f86","#d145ae"]},"legend":null}}},
{"data":{"name":"arw"},"mark":{"type":"rule","strokeWidth":3.5},"encoding":{"x":{"field":"v1","type":"quantitative"},"x2":{"field":"v2"},"y":{"field":"p","type":"quantitative"},"color":{"field":"k","type":"nominal","scale":{"domain":["green","magenta"],"range":["#4cc24c","#e040d0"]},"legend":null}}},
{"data":{"name":"bx"},"mark":{"type":"rect","filled":false,"strokeWidth":1.2},"encoding":{"x":{"field":"v1","type":"quantitative"},"x2":{"field":"v2"},"y":{"field":"p1","type":"quantitative"},"y2":{"field":"p2"},"stroke":{"field":"k","type":"nominal","scale":{"domain":["gray","pink","yellow","green","magenta"],"range":["#8a8a8a","#d07090","#e6dd8a","#4fc04f","#d040c0"]},"legend":null}}},
{"data":{"name":"pk"},"mark":{"type":"circle","size":7,"color":"#e07fb0","opacity":0.9},"encoding":{"x":{"field":"v","type":"quantitative"},"y":{"field":"p","type":"quantitative"}}},
{"data":{"name":"tx"},"transform":[{"filter":"datum.k=='hdr'||datum.k=='yelL'"}],"mark":{"type":"text","align":"left","baseline":"middle","fontSize":9},"encoding":{"x":{"field":"v","type":"quantitative"},"y":{"field":"p","type":"quantitative"},"text":{"field":"t"},"color":{"field":"k","type":"nominal","scale":{"domain":["hdr","yelL"],"range":["#222222","#d6c760"]},"legend":null}}},
{"data":{"name":"tx"},"transform":[{"filter":"datum.k=='pinkL'"}],"mark":{"type":"text","align":"left","baseline":"middle","fontSize":10,"color":"#c0609a"},"encoding":{"x":{"field":"v","type":"quantitative"},"y":{"field":"p","type":"quantitative"},"text":{"field":"t"}}},
{"data":{"name":"tx"},"transform":[{"filter":"datum.k=='wave'"}],"mark":{"type":"text","align":"left","baseline":"middle","fontSize":15,"color":"#e33d6e"},"encoding":{"x":{"field":"v","type":"quantitative"},"y":{"field":"p","type":"quantitative"},"text":{"field":"t"}}},
{"data":{"name":"tx"},"transform":[{"filter":"datum.k=='pink'||datum.k=='four'||datum.k=='yel'||datum.k=='labg'||datum.k=='labm'"}],"mark":{"type":"text","align":"center","baseline":"middle","fontSize":9},"encoding":{"x":{"field":"v","type":"quantitative"},"y":{"field":"p","type":"quantitative"},"text":{"field":"t"},"color":{"field":"k","type":"nominal","scale":{"domain":["pink","four","yel","labg","labm"],"range":["#c24a7c","#d06080","#cfbe55","#33a833","#c030c0"]},"legend":null}}},
{"data":{"name":"tx"},"transform":[{"filter":"datum.k=='two'"}],"mark":{"type":"text","align":"center","baseline":"middle","fontSize":11,"color":"#d88080"},"encoding":{"x":{"field":"v","type":"quantitative"},"y":{"field":"p","type":"quantitative"},"text":{"field":"t"}}},
{"data":{"name":"tx"},"transform":[{"filter":"datum.k=='arrow'"}],"mark":{"type":"text","align":"center","baseline":"middle","fontSize":34,"color":"#e4587e","font":"DejaVu Sans"},"encoding":{"x":{"field":"v","type":"quantitative"},"y":{"field":"p","type":"quantitative"},"text":{"field":"t"}}},
{"data":{"name":"tx"},"transform":[{"filter":"datum.k=='small'"}],"mark":{"type":"text","align":"center","baseline":"middle","fontSize":7,"color":"#7f90aa"},"encoding":{"x":{"field":"v","type":"quantitative"},"y":{"field":"p","type":"quantitative"},"text":{"field":"t"}}},
{"data":{"name":"axl"},"mark":{"type":"rect","width":36,"height":12},"encoding":{"x":{"datum":318.75,"type":"quantitative"},"y":{"field":"p","type":"quantitative"},"color":{"field":"k","type":"nominal","scale":{"domain":["red","blue","black"],"range":["#f4877f","#45a9e6","#1c1c2c"]},"legend":null}}},
{"data":{"name":"axl"},"mark":{"type":"text","align":"left","baseline":"middle","fontSize":9,"color":"#ffffff"},"encoding":{"x":{"datum":314.7,"type":"quantitative"},"y":{"field":"p","type":"quantitative"},"text":{"field":"t"}}}
]},
{"spacing":3,"vconcat":[
{"width":1255,"height":156,
"layer":[
{"data":{"name":"vgrid"},"mark":{"type":"rule","color":"#3a3a3a","strokeDash":[1,2],"strokeWidth":1},"encoding":{"x":{"field":"v","type":"quantitative","scale":{"domain":[0,313.75],"nice":false,"zero":false},"axis":null}}},
{"data":{"name":"bh"},"mark":{"type":"rule","color":"#c8c8c8","strokeDash":[3,3]},"encoding":{"y":{"datum":0,"type":"quantitative","scale":{"domain":[-2389.9,2093.5],"nice":false,"zero":false},"axis":{"orient":"right","values":[1892.35,0,-2188.7],"format":".2f","tickSize":3,"labelPadding":2,"title":null}}}},
{"data":{"name":"bma45"},"mark":{"type":"line","color":"#98a8ba","strokeDash":[8,4],"strokeWidth":1.2},"encoding":{"x":{"field":"v","type":"quantitative"},"y":{"field":"b","type":"quantitative"}}},
{"data":{"name":"bma13"},"mark":{"type":"line","color":"#9fd0dc","strokeDash":[2,2],"strokeWidth":1},"encoding":{"x":{"field":"v","type":"quantitative"},"y":{"field":"b","type":"quantitative"}}},
{"data":{"name":"bmain"},"mark":{"type":"line","color":"#3b8fd0","strokeWidth":0.9},"encoding":{"x":{"field":"v","type":"quantitative"},"y":{"field":"b","type":"quantitative"}}},
{"data":{"name":"bh"},"mark":{"type":"text","align":"left","baseline":"middle","fontSize":9,"color":"#222222"},"encoding":{"x":{"field":"v","type":"quantitative"},"y":{"field":"b","type":"quantitative"},"text":{"field":"t"}}}
]},
{"width":1255,"height":61,
"resolve":{"scale":{"color":"independent"}},
"layer":[
{"data":{"name":"vgrid"},"mark":{"type":"rule","color":"#3a3a3a","strokeDash":[1,2],"strokeWidth":1},"encoding":{"x":{"field":"v","type":"quantitative","scale":{"domain":[0,313.75],"nice":false,"zero":false},"axis":{"orient":"bottom","values":[0.5,15.5,30.5,46.25,61.5,76.5,91.75,107,122.25,137.5,152.75,168,183.25,198.5,213.75,229,244.25],"labelExpr":"['12 Apr 2018','13 Apr 02:00','13 Apr 18:00','16 Apr 12:00','17 Apr 05:00','17 Apr 21:00','18 Apr 14:00','19 Apr 07:00','19 Apr 23:00','20 Apr 16:00','23 Apr 10:00','24 Apr 03:00','24 Apr 19:00','25 Apr 12:00','26 Apr 05:00','26 Apr 21:00','27 Apr 14:00'][indexof([0.5,15.5,30.5,46.25,61.5,76.5,91.75,107,122.25,137.5,152.75,168,183.25,198.5,213.75,229,244.25], datum.value)]","labelAlign":"left","labelBaseline":"top","tickSize":4,"labelPadding":1,"labelOverlap":false,"labelBound":false,"labelFlush":false,"title":null}}}},
{"data":{"name":"hy"},"mark":{"type":"line","color":"#e8dc98","strokeWidth":1},"encoding":{"x":{"field":"v","type":"quantitative"},"y":{"field":"h","type":"quantitative","scale":{"domain":[24.78,76.08],"nice":false,"zero":false},"axis":{"orient":"right","values":[69.3553,30.666],"labelExpr":"datum.value < 50 ? '30.666' : '69.3553'","tickSize":3,"labelPadding":2,"title":null}}}},
{"data":{"name":"hg"},"mark":{"type":"line","color":"#b8bcc4","strokeDash":[2,2],"strokeWidth":1},"encoding":{"x":{"field":"v","type":"quantitative"},"y":{"field":"h","type":"quantitative"}}},
{"data":{"name":"hh"},"mark":{"type":"text","align":"left","baseline":"middle","fontSize":9,"color":"#222222"},"encoding":{"x":{"field":"v","type":"quantitative"},"y":{"field":"h","type":"quantitative"},"text":{"field":"t"}}},
{"data":{"name":"xbox"},"mark":{"type":"rect","width":77,"height":13},"encoding":{"x":{"field":"v","type":"quantitative"},"y":{"datum":15.5,"type":"quantitative"},"color":{"field":"k","type":"nominal","scale":{"domain":["red","green"],"range":["#f07a7a","#8fe35f"]},"legend":null}}},
{"data":{"name":"xbox"},"mark":{"type":"text","align":"center","baseline":"middle","fontSize":9,"color":"#ffffff"},"encoding":{"x":{"field":"v","type":"quantitative"},"y":{"datum":15.5,"type":"quantitative"},"text":{"field":"t"}}}
]}
]}
]
}
